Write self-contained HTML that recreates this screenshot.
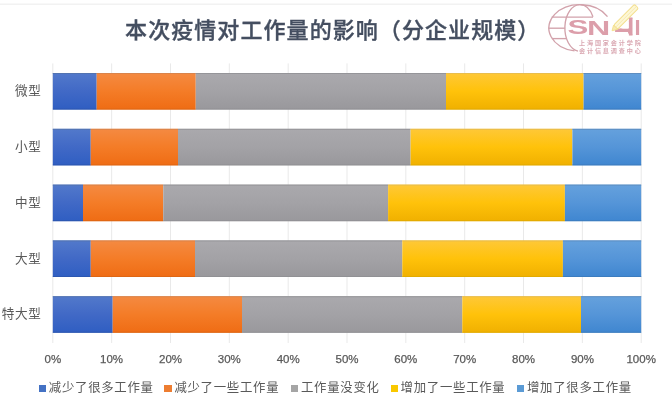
<!DOCTYPE html>
<html><head><meta charset="utf-8"><style>
html,body{margin:0;padding:0;background:#fff;}
body{width:672px;height:401px;overflow:hidden;position:relative;font-family:"Liberation Sans","Noto Sans CJK SC",sans-serif;}
.t{position:absolute;left:0;top:0;width:672px;height:401px;filter:blur(0.3px)}
.title{position:absolute;left:125.1px;top:12.2px;font-size:22px;letter-spacing:1.07px;line-height:32px;font-weight:500;-webkit-text-stroke:0.35px #444e60;color:#444e60;white-space:nowrap;font-family:"Noto Sans CJK SC",sans-serif;}
.yl{position:absolute;left:0;width:41.4px;text-align:right;font-size:12.6px;letter-spacing:0.6px;line-height:18px;color:#595959;font-family:"Noto Sans CJK SC",sans-serif;white-space:nowrap}
.xl{position:absolute;top:350.8px;width:60px;text-align:center;font-size:11.5px;line-height:16px;color:#595959;-webkit-text-stroke:0.25px #595959;}
.lsq{position:absolute;top:384.8px;width:7.5px;height:7.3px}
.lt{position:absolute;top:377.9px;font-size:12.4px;letter-spacing:0.72px;line-height:18px;color:#595959;font-family:"Noto Sans CJK SC",sans-serif;white-space:nowrap}
</style></head><body>
<svg width="672" height="401" viewBox="0 0 672 401" style="position:absolute;left:0;top:0">
<defs>
<linearGradient id="gB" x1="0" y1="0" x2="0" y2="1"><stop offset="0" stop-color="#5279cb"/><stop offset="0.5" stop-color="#4169c6"/><stop offset="1" stop-color="#2f5ec2"/></linearGradient>
<linearGradient id="gO" x1="0" y1="0" x2="0" y2="1"><stop offset="0" stop-color="#f48a42"/><stop offset="0.5" stop-color="#f47c27"/><stop offset="1" stop-color="#ef6c14"/></linearGradient>
<linearGradient id="gG" x1="0" y1="0" x2="0" y2="1"><stop offset="0" stop-color="#aaa9ad"/><stop offset="0.5" stop-color="#a3a2a6"/><stop offset="1" stop-color="#99989c"/></linearGradient>
<linearGradient id="gY" x1="0" y1="0" x2="0" y2="1"><stop offset="0" stop-color="#fec838"/><stop offset="0.5" stop-color="#ffc20a"/><stop offset="1" stop-color="#f0b000"/></linearGradient>
<linearGradient id="gL" x1="0" y1="0" x2="0" y2="1"><stop offset="0" stop-color="#65a1dd"/><stop offset="0.5" stop-color="#5595d8"/><stop offset="1" stop-color="#3f86d0"/></linearGradient>
</defs>
<rect x="0" y="3.5" width="672" height="1.4" fill="#f1f1f1"/>
<rect x="52.30" y="63.4" width="1" height="279.6" fill="#e9e9e9"/>
<rect x="111.14" y="63.4" width="1" height="279.6" fill="#e9e9e9"/>
<rect x="169.98" y="63.4" width="1" height="279.6" fill="#e9e9e9"/>
<rect x="228.82" y="63.4" width="1" height="279.6" fill="#e9e9e9"/>
<rect x="287.66" y="63.4" width="1" height="279.6" fill="#e9e9e9"/>
<rect x="346.50" y="63.4" width="1" height="279.6" fill="#e9e9e9"/>
<rect x="405.34" y="63.4" width="1" height="279.6" fill="#e9e9e9"/>
<rect x="464.18" y="63.4" width="1" height="279.6" fill="#e9e9e9"/>
<rect x="523.02" y="63.4" width="1" height="279.6" fill="#e9e9e9"/>
<rect x="581.86" y="63.4" width="1" height="279.6" fill="#e9e9e9"/>
<rect x="640.70" y="63.4" width="1" height="279.6" fill="#e9e9e9"/>
<rect x="52.80" y="73.00" width="43.90" height="36.6" fill="url(#gB)"/>
<rect x="52.80" y="73.00" width="43.90" height="1" fill="#5272aa" opacity="0.8"/>
<rect x="52.80" y="108.60" width="43.90" height="1" fill="#2c52a4" opacity="0.6"/>
<rect x="96.70" y="73.00" width="99.05" height="36.6" fill="url(#gO)"/>
<rect x="96.70" y="73.00" width="99.05" height="1" fill="#d2824e" opacity="0.8"/>
<rect x="96.70" y="108.60" width="99.05" height="1" fill="#d26214" opacity="0.6"/>
<rect x="195.75" y="73.00" width="250.25" height="36.6" fill="url(#gG)"/>
<rect x="195.75" y="73.00" width="250.25" height="1" fill="#909094" opacity="0.8"/>
<rect x="195.75" y="108.60" width="250.25" height="1" fill="#8c8c90" opacity="0.6"/>
<rect x="446.00" y="73.00" width="137.60" height="36.6" fill="url(#gY)"/>
<rect x="446.00" y="73.00" width="137.60" height="1" fill="#e2ba52" opacity="0.8"/>
<rect x="446.00" y="108.60" width="137.60" height="1" fill="#d9a600" opacity="0.6"/>
<rect x="583.60" y="73.00" width="57.60" height="36.6" fill="url(#gL)"/>
<rect x="583.60" y="73.00" width="57.60" height="1" fill="#5c8aba" opacity="0.8"/>
<rect x="583.60" y="108.60" width="57.60" height="1" fill="#3a76b2" opacity="0.6"/>
<rect x="52.80" y="128.80" width="37.95" height="36.6" fill="url(#gB)"/>
<rect x="52.80" y="128.80" width="37.95" height="1" fill="#5272aa" opacity="0.8"/>
<rect x="52.80" y="164.40" width="37.95" height="1" fill="#2c52a4" opacity="0.6"/>
<rect x="90.75" y="128.80" width="87.25" height="36.6" fill="url(#gO)"/>
<rect x="90.75" y="128.80" width="87.25" height="1" fill="#d2824e" opacity="0.8"/>
<rect x="90.75" y="164.40" width="87.25" height="1" fill="#d26214" opacity="0.6"/>
<rect x="178.00" y="128.80" width="232.60" height="36.6" fill="url(#gG)"/>
<rect x="178.00" y="128.80" width="232.60" height="1" fill="#909094" opacity="0.8"/>
<rect x="178.00" y="164.40" width="232.60" height="1" fill="#8c8c90" opacity="0.6"/>
<rect x="410.60" y="128.80" width="161.80" height="36.6" fill="url(#gY)"/>
<rect x="410.60" y="128.80" width="161.80" height="1" fill="#e2ba52" opacity="0.8"/>
<rect x="410.60" y="164.40" width="161.80" height="1" fill="#d9a600" opacity="0.6"/>
<rect x="572.40" y="128.80" width="68.80" height="36.6" fill="url(#gL)"/>
<rect x="572.40" y="128.80" width="68.80" height="1" fill="#5c8aba" opacity="0.8"/>
<rect x="572.40" y="164.40" width="68.80" height="1" fill="#3a76b2" opacity="0.6"/>
<rect x="52.80" y="184.60" width="30.20" height="36.6" fill="url(#gB)"/>
<rect x="52.80" y="184.60" width="30.20" height="1" fill="#5272aa" opacity="0.8"/>
<rect x="52.80" y="220.20" width="30.20" height="1" fill="#2c52a4" opacity="0.6"/>
<rect x="83.00" y="184.60" width="80.25" height="36.6" fill="url(#gO)"/>
<rect x="83.00" y="184.60" width="80.25" height="1" fill="#d2824e" opacity="0.8"/>
<rect x="83.00" y="220.20" width="80.25" height="1" fill="#d26214" opacity="0.6"/>
<rect x="163.25" y="184.60" width="224.85" height="36.6" fill="url(#gG)"/>
<rect x="163.25" y="184.60" width="224.85" height="1" fill="#909094" opacity="0.8"/>
<rect x="163.25" y="220.20" width="224.85" height="1" fill="#8c8c90" opacity="0.6"/>
<rect x="388.10" y="184.60" width="176.80" height="36.6" fill="url(#gY)"/>
<rect x="388.10" y="184.60" width="176.80" height="1" fill="#e2ba52" opacity="0.8"/>
<rect x="388.10" y="220.20" width="176.80" height="1" fill="#d9a600" opacity="0.6"/>
<rect x="564.90" y="184.60" width="76.30" height="36.6" fill="url(#gL)"/>
<rect x="564.90" y="184.60" width="76.30" height="1" fill="#5c8aba" opacity="0.8"/>
<rect x="564.90" y="220.20" width="76.30" height="1" fill="#3a76b2" opacity="0.6"/>
<rect x="52.80" y="240.40" width="37.95" height="36.6" fill="url(#gB)"/>
<rect x="52.80" y="240.40" width="37.95" height="1" fill="#5272aa" opacity="0.8"/>
<rect x="52.80" y="276.00" width="37.95" height="1" fill="#2c52a4" opacity="0.6"/>
<rect x="90.75" y="240.40" width="104.25" height="36.6" fill="url(#gO)"/>
<rect x="90.75" y="240.40" width="104.25" height="1" fill="#d2824e" opacity="0.8"/>
<rect x="90.75" y="276.00" width="104.25" height="1" fill="#d26214" opacity="0.6"/>
<rect x="195.00" y="240.40" width="207.30" height="36.6" fill="url(#gG)"/>
<rect x="195.00" y="240.40" width="207.30" height="1" fill="#909094" opacity="0.8"/>
<rect x="195.00" y="276.00" width="207.30" height="1" fill="#8c8c90" opacity="0.6"/>
<rect x="402.30" y="240.40" width="160.60" height="36.6" fill="url(#gY)"/>
<rect x="402.30" y="240.40" width="160.60" height="1" fill="#e2ba52" opacity="0.8"/>
<rect x="402.30" y="276.00" width="160.60" height="1" fill="#d9a600" opacity="0.6"/>
<rect x="562.90" y="240.40" width="78.30" height="36.6" fill="url(#gL)"/>
<rect x="562.90" y="240.40" width="78.30" height="1" fill="#5c8aba" opacity="0.8"/>
<rect x="562.90" y="276.00" width="78.30" height="1" fill="#3a76b2" opacity="0.6"/>
<rect x="52.80" y="296.20" width="59.90" height="36.6" fill="url(#gB)"/>
<rect x="52.80" y="296.20" width="59.90" height="1" fill="#5272aa" opacity="0.8"/>
<rect x="52.80" y="331.80" width="59.90" height="1" fill="#2c52a4" opacity="0.6"/>
<rect x="112.70" y="296.20" width="129.30" height="36.6" fill="url(#gO)"/>
<rect x="112.70" y="296.20" width="129.30" height="1" fill="#d2824e" opacity="0.8"/>
<rect x="112.70" y="331.80" width="129.30" height="1" fill="#d26214" opacity="0.6"/>
<rect x="242.00" y="296.20" width="220.30" height="36.6" fill="url(#gG)"/>
<rect x="242.00" y="296.20" width="220.30" height="1" fill="#909094" opacity="0.8"/>
<rect x="242.00" y="331.80" width="220.30" height="1" fill="#8c8c90" opacity="0.6"/>
<rect x="462.30" y="296.20" width="118.70" height="36.6" fill="url(#gY)"/>
<rect x="462.30" y="296.20" width="118.70" height="1" fill="#e2ba52" opacity="0.8"/>
<rect x="462.30" y="331.80" width="118.70" height="1" fill="#d9a600" opacity="0.6"/>
<rect x="581.00" y="296.20" width="60.20" height="36.6" fill="url(#gL)"/>
<rect x="581.00" y="296.20" width="60.20" height="1" fill="#5c8aba" opacity="0.8"/>
<rect x="581.00" y="331.80" width="60.20" height="1" fill="#3a76b2" opacity="0.6"/>
</svg>
<svg width="672" height="60" viewBox="0 0 672 60" style="position:absolute;left:0;top:0;filter:blur(0.3px)">
<g fill="none" stroke="#d2a2ab" stroke-width="1.35">
<path d="M607.5 16.7 A31.3 23.3 0 1 0 574.5 50.9"/>
<path d="M593 16.7 A15.1 23.3 0 0 0 580 4.7 A15.1 23.3 0 0 0 578 51.1"/>
<line x1="551.6" y1="17.1" x2="593" y2="17.1"/>
<line x1="548.7" y1="28.2" x2="564.9" y2="28.2"/>
<line x1="551.8" y1="38.6" x2="566.5" y2="38.6"/>
</g>
<clipPath id="c4"><rect x="628.9" y="15" width="3.6" height="21"/><rect x="610" y="28.6" width="22.5" height="5"/></clipPath>
<g fill="#dc9eaa" font-family="Liberation Sans, sans-serif" font-weight="700">
<text x="567.5" y="34.0" font-size="19.35" textLength="20.82" lengthAdjust="spacingAndGlyphs">S</text>
<text x="586.95" y="34.5" font-size="20.93" textLength="23.22" lengthAdjust="spacingAndGlyphs">N</text>
<text x="615.37" y="35" font-size="23.3" textLength="23.1" lengthAdjust="spacingAndGlyphs" clip-path="url(#c4)" stroke="#dc9eaa" stroke-width="0.9">4</text>
<text x="634.54" y="35" font-size="21.8">I</text>
</g>
<g transform="translate(625.5 17.3) rotate(-45)">
<rect x="-14" y="-2.8" width="29.5" height="5.6" rx="1.5" fill="#fdf7d6" stroke="#f3df8e" stroke-width="1"/>
<path d="M-14 -2.9 L-19 0 L-14 2.9 Z" fill="#f8eab0" stroke="#f3df8e" stroke-width="0.9"/>
<line x1="-14" y1="0" x2="15.5" y2="0" stroke="#f6e7a8" stroke-width="0.8"/>
</g>
<g font-family="Noto Sans CJK SC, sans-serif" font-size="6.1" font-weight="700" fill="#daa8b2" letter-spacing="1.9">
<text x="578.9" y="45.4">上海国家会计学院</text>
<text x="578.9" y="53.1">会计信息调查中心</text>
</g>
</svg>
<div class="t">
<div class="title">本次疫情对工作量的影响（分企业规模）</div>
<div class="yl" style="top:81.1px">微型</div>
<div class="yl" style="top:136.9px">小型</div>
<div class="yl" style="top:192.7px">中型</div>
<div class="yl" style="top:248.5px">大型</div>
<div class="yl" style="top:304.3px">特大型</div>
<div class="xl" style="left:22.8px">0%</div>
<div class="xl" style="left:81.6px">10%</div>
<div class="xl" style="left:140.5px">20%</div>
<div class="xl" style="left:199.3px">30%</div>
<div class="xl" style="left:258.2px">40%</div>
<div class="xl" style="left:317.0px">50%</div>
<div class="xl" style="left:375.8px">60%</div>
<div class="xl" style="left:434.7px">70%</div>
<div class="xl" style="left:493.5px">80%</div>
<div class="xl" style="left:552.4px">90%</div>
<div class="xl" style="left:611.2px">100%</div>
<div class="lsq" style="left:38.7px;background:#4472c4"></div><div class="lt" style="left:48.8px">减少了很多工作量</div>
<div class="lsq" style="left:164.3px;background:#ed7d31"></div><div class="lt" style="left:174.4px">减少了一些工作量</div>
<div class="lsq" style="left:290.9px;background:#a5a5a5"></div><div class="lt" style="left:301.0px">工作量没变化</div>
<div class="lsq" style="left:390.5px;background:#f9c800"></div><div class="lt" style="left:400.6px">增加了一些工作量</div>
<div class="lsq" style="left:516.9px;background:#5b9bd5"></div><div class="lt" style="left:527.0px">增加了很多工作量</div>
</div>
</body></html>
